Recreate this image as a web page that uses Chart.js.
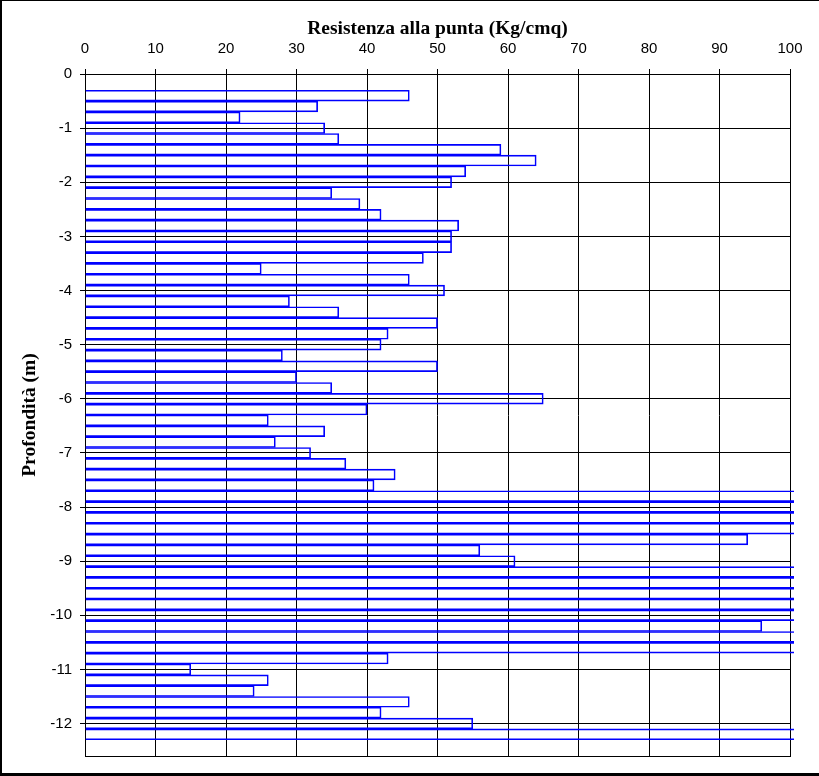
<!DOCTYPE html>
<html>
<head>
<meta charset="utf-8">
<script src="https://cdn.jsdelivr.net/npm/chart.js@4/dist/chart.umd.min.js"></script>
<style>
  html, body { margin: 0; padding: 0; background: #fff; }
  canvas { display: block; }
</style>
</head>
<body>
<canvas id="chart" width="819" height="776"></canvas>
<script>
// profondità delle letture (m), una ogni 20 cm
const profondita = [
    -0.4, -0.6, -0.8, -1.0, -1.2, -1.4, -1.6, -1.8, -2.0, -2.2,
    -2.4, -2.6, -2.8, -3.0, -3.2, -3.4, -3.6, -3.8, -4.0, -4.2,
    -4.4, -4.6, -4.8, -5.0, -5.2, -5.4, -5.6, -5.8, -6.0, -6.2,
    -6.4, -6.6, -6.8, -7.0, -7.2, -7.4, -7.6, -7.8, -8.0, -8.2,
    -8.4, -8.6, -8.8, -9.0, -9.2, -9.4, -9.6, -9.8, -10.0, -10.2,
    -10.4, -10.6, -10.8, -11.0, -11.2, -11.4, -11.6, -11.8, -12.0, -12.2
];

// resistenza alla punta (Kg/cmq); 120 = fuori scala (oltre 100)
const resistenza = [
    46, 33, 22, 34, 36, 59, 64, 54, 52, 35,
    39, 42, 53, 52, 52, 48, 25, 46, 51, 29,
    36, 50, 43, 42, 28, 50, 30, 35, 65, 40,
    26, 34, 27, 32, 37, 44, 41, 120, 120, 120,
    120, 94, 56, 61, 120, 120, 120, 120, 120, 96,
    120, 120, 43, 15, 26, 24, 46, 42, 55, 120
];

const xTitle = 'Resistenza alla punta (Kg/cmq)';
const yTitle = 'Profondità (m)';

const tickFont = { family: "'Liberation Sans', Arial, sans-serif", size: 15 };
const titleFont = { family: "'Liberation Serif', 'Times New Roman', serif", size: 19.5, weight: 'bold' };

const framePlugin = {
    id: 'frame',
    beforeDraw(chart) {
        const ctx = chart.ctx;
        ctx.save();
        ctx.fillStyle = '#fff';
        ctx.fillRect(0, 0, chart.width, chart.height);
        ctx.restore();
    },
    beforeDatasetsDraw(chart) {
        const { ctx, chartArea } = chart;
        ctx.save();
        ctx.strokeStyle = '#000';
        ctx.lineWidth = 1;
        ctx.strokeRect(Math.round(chartArea.left) + 0.5, Math.round(chartArea.top) + 0.5,
            Math.round(chartArea.right - chartArea.left), Math.round(chartArea.bottom - chartArea.top));
        ctx.restore();
    },
    afterDraw(chart) {
        const ctx = chart.ctx;
        ctx.save();
        ctx.fillStyle = '#000';
        ctx.fillRect(0, 0, 2, chart.height);
        ctx.fillRect(0, 0, chart.width, 1);
        ctx.fillRect(0, chart.height - 3, chart.width, 3);
        ctx.restore();
    }
};

const ctx = document.getElementById('chart').getContext('2d');
new Chart(ctx, {
    type: 'bar',
    data: {
        datasets: [{
            data: profondita.map((d, i) => ({ x: resistenza[i], y: d })),
            backgroundColor: 'rgba(0,0,0,0)',
            borderColor: '#0000ff',
            borderWidth: 1,
            barPercentage: 1,
            categoryPercentage: 1,
            clip: { left: 0, top: 0, right: 4, bottom: 0 }
        }]
    },
    options: {
        indexAxis: 'y',
        responsive: false,
        animation: false,
        devicePixelRatio: 1,
        layout: { padding: { left: 0, top: 0, right: 29, bottom: 20 } },
        plugins: {
            legend: { display: false },
            tooltip: { enabled: false }
        },
        scales: {
            x: {
                type: 'linear',
                position: 'top',
                min: 0,
                max: 100,
                afterFit: (scale) => { scale.height = 74; },
                ticks: { stepSize: 10, color: '#000', font: tickFont, padding: 11, maxRotation: 0 },
                grid: { color: '#000', lineWidth: 1, drawTicks: true, tickLength: 5, tickColor: '#000' },
                border: { display: true, color: '#000', width: 1 },
                title: { display: true, text: xTitle, color: '#000', font: titleFont, padding: { top: 17, bottom: 0 } }
            },
            y: {
                type: 'linear',
                min: -12.6,
                max: 0,
                offset: false,
                afterFit: (scale) => { scale.width = 85; },
                ticks: { stepSize: 1, includeBounds: false, color: '#000', font: tickFont, padding: 8 },
                grid: { offset: false, color: '#000', lineWidth: 1, drawTicks: true, tickLength: 5, tickColor: '#000' },
                border: { display: true, color: '#000', width: 1 },
                title: { display: true, text: yTitle, color: '#000', font: titleFont, padding: { top: 18, bottom: 0 } }
            }
        }
    },
    plugins: [framePlugin]
});
</script>
</body>
</html>
